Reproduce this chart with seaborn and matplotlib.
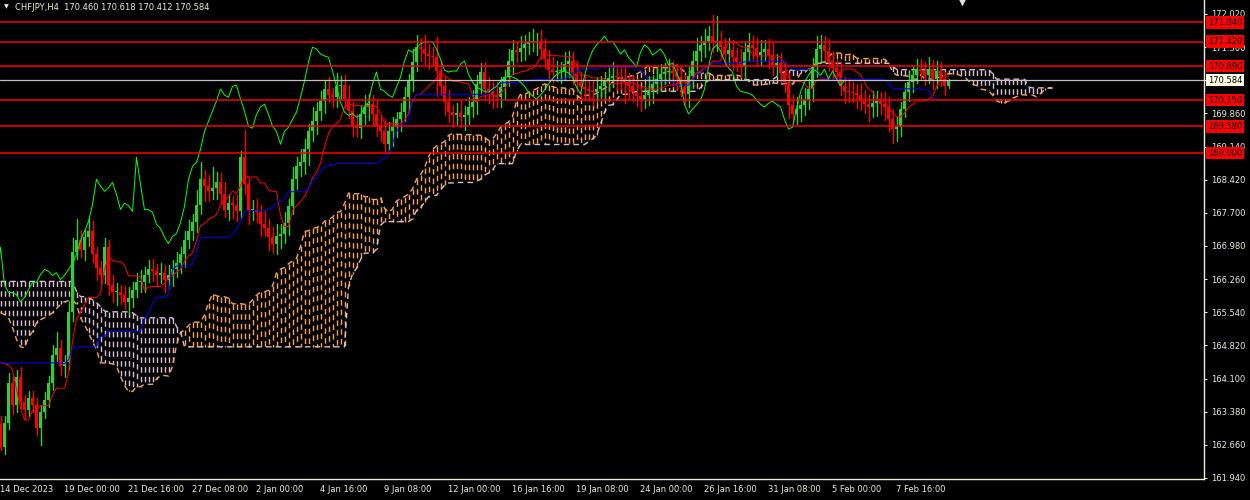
import matplotlib
matplotlib.use("Agg")
import matplotlib.pyplot as plt
import numpy as np
import pandas as pd
import seaborn as sns

# H4 closes, bar 0 = 14 Dec 2023 08:00
closes = [162.62, 163.14, 164.01, 163.53, 164.14, 163.60, 163.42, 163.68, 163.53, 163.03,
          163.38, 163.64, 164.01, 164.62, 164.77, 164.38, 164.47, 165.55, 166.86, 167.12,
          166.90, 167.17, 167.30, 166.80, 166.51, 166.34,
          166.95, 166.14, 165.97, 165.97, 165.92, 165.77, 165.86, 166.03, 166.19, 166.19,
          166.36, 166.47, 166.43, 166.34, 166.40, 166.25, 166.34, 166.47, 166.60, 166.80,
          167.10, 167.30, 167.51, 167.88, 168.43, 168.28, 168.17, 168.25, 168.36, 168.10,
          167.77, 167.91, 167.86, 167.73, 168.91, 168.32, 167.77, 167.77, 167.71, 167.45,
          167.36, 167.17, 167.03, 167.19, 167.25, 167.49, 167.84, 168.43, 168.71, 168.80,
          169.08, 169.47, 169.69, 169.91, 170.13, 170.39, 170.26, 170.21, 170.45, 170.47,
          170.17, 169.91, 169.58, 169.54, 169.84, 170.00, 170.06, 169.84, 169.58, 169.47,
          169.19, 169.47, 169.56, 169.73, 169.89, 170.21, 170.56, 170.98, 171.30, 171.26,
          171.15, 171.11, 171.08, 170.78, 170.45, 170.10, 169.89, 169.82, 169.86, 169.78,
          169.82, 170.00, 170.10, 170.50, 170.76, 170.39, 170.34, 170.26, 170.21, 170.43,
          170.65, 171.00, 171.24, 171.19, 171.28, 171.37, 171.41, 171.41, 171.41, 171.26,
          171.04, 170.80, 170.76, 170.78, 170.78, 170.93, 171.00, 170.71, 170.54, 170.43,
          170.39, 170.34, 170.32, 170.39, 170.45, 170.56, 170.63, 170.67, 170.65, 170.61,
          170.54, 170.45, 170.32, 170.24, 170.17, 170.26, 170.37, 170.50, 170.61, 170.71,
          170.76, 170.78, 170.74, 170.65, 170.43, 170.28, 170.67, 171.00, 171.22, 171.35,
          171.43, 171.54, 171.41, 171.43, 171.30, 171.15, 171.24, 171.08, 170.98, 170.87,
          171.19, 171.35, 171.28, 171.13, 171.19, 171.26, 171.13, 170.91, 170.95, 170.74,
          170.54, 170.05, 169.85, 169.95, 170.05, 170.15, 170.39, 170.87, 171.26, 171.35,
          171.22, 171.00, 170.85, 170.76, 170.45, 170.34, 170.32, 170.30, 170.26, 170.15,
          170.06, 170.00, 170.08, 170.13, 170.06, 170.00, 169.73, 169.52, 169.56, 169.95,
          170.32, 170.54, 170.69,
          170.82, 170.78, 170.69, 170.82, 170.61, 170.78, 170.61, 170.46, 170.584]
first_open = 163.12

# wick lengths in pips (0.01)
wick_up = [16, 14, 20, 16, 15, 22, 14, 16, 15, 14,
           14, 16, 15, 20, 35, 16, 14, 22, 30, 45,
           20, 16, 28, 22, 16, 14, 20, 16, 22, 20,
           16, 20, 22, 16, 20, 26, 16, 20, 22, 16,
           20, 16, 22, 20, 26, 16, 20, 24, 16, 32,
           38, 20, 24, 45, 22, 20, 28, 20, 16, 22,
           14, 60, 16, 20, 22, 16, 30, 20, 22, 26,
           20, 22, 16, 26, 20, 28, 22, 16, 30, 20,
           22, 20, 26, 16, 28, 20, 22, 30, 20, 26,
           20, 26, 22, 20, 28, 22, 26, 20, 22, 16,
           20, 22, 16, 28, 26, 20, 30, 22, 20, 45,
           22, 20, 26, 16, 22, 28, 20, 22, 26, 20,
           20, 22, 26, 20, 28, 22, 16, 26, 22, 20,
           26, 20, 22, 28, 20, 26, 22, 20, 28, 22,
           20, 26, 22, 20, 28, 22, 26, 20, 22, 26,
           22, 20, 26, 30, 20, 22, 26, 20, 22, 28,
           20, 22, 28, 20, 26, 22, 20, 26, 22, 20,
           22, 26, 20, 22, 28, 20, 26, 22, 45, 55,
           22, 20, 26, 22, 20, 28, 22, 26, 20, 22,
           26, 20, 22, 28, 20, 22, 26, 20, 22, 26,
           20, 26, 22, 20, 28, 22, 20, 26, 22, 20,
           22, 20, 26, 22, 20, 26, 22, 20, 26, 22,
           20, 26, 22, 20, 22, 16, 20, 22, 20, 22,
           22, 20, 26, 20, 22, 20, 16, 3.4]
wick_dn = [7, 16, 14, 20, 16, 15, 20, 14, 16, 15,
           37, 14, 16, 15, 14, 20, 24, 16, 20, 16,
           16, 22, 20, 16, 26, 20, 16, 22, 20, 28,
           20, 16, 26, 20, 16, 20, 22, 16, 20, 24,
           16, 26, 20, 22, 16, 20, 28, 16, 20, 22,
           20, 32, 22, 16, 26, 20, 16, 22, 28, 20,
           16, 20, 32, 22, 20, 26, 16, 28, 20, 22,
           26, 20, 28, 16, 22, 20, 26, 35, 20, 28,
           20, 26, 16, 22, 20, 28, 20, 16, 22, 20,
           22, 20, 28, 26, 20, 22, 16, 20, 32, 22,
           26, 20, 32, 22, 20, 26, 22, 28, 20, 55,
           20, 28, 22, 26, 20, 22, 28, 20, 22, 26,
           22, 20, 26, 28, 20, 22, 26, 20, 28, 22,
           20, 26, 22, 20, 28, 22, 20, 26, 22, 20,
           26, 20, 28, 22, 20, 26, 22, 20, 28, 22,
           20, 26, 22, 20, 28, 22, 45, 26, 20, 22,
           26, 20, 22, 28, 20, 26, 22, 20, 26, 28,
           20, 22, 28, 26, 20, 22, 26, 20, 22, 20,
           20, 26, 22, 28, 20, 22, 26, 20, 28, 22,
           22, 20, 28, 22, 26, 20, 22, 28, 20, 22,
           26, 22, 20, 26, 22, 28, 20, 22, 26, 20,
           20, 26, 22, 20, 28, 22, 20, 30, 22, 28,
           22, 28, 26, 30, 26, 20, 16, 20, 22, 16,
           20, 22, 16, 22, 20, 16, 20, 4.8]

# indicator values before enough history is on screen
tenkan_lead = [164.44, 164.42, 164.40, 164.29, 163.86, 163.46, 163.20, 163.20]
kijun_lead = [164.44] * 16 + [164.42, 164.51, 164.75] + [164.79] * 6
span_a_lead = [165.53, 165.49, 165.42, 165.21, 164.95, 164.79, 164.77, 164.99, 165.12, 165.31,
               165.38, 165.42, 165.47, 165.53, 165.62, 165.71, 165.77, 165.79, 165.81, 165.71,
               165.42, 165.27, 165.10, 164.90, 164.73, 164.44]
span_b_lead = ([166.21] * 19 + [165.99, 165.88, 165.88, 165.86, 165.81, 165.75, 165.66, 165.57]
               + [165.55] * 6 + [165.53, 165.47] + [165.42] * 9 + [165.23, 165.12] + [164.79] * 41)

levels = [171.84, 171.42, 170.89, 170.15, 169.58, 169.00]
bid = 170.584
date_labels = ['14 Dec 2023', '19 Dec 00:00', '21 Dec 16:00', '27 Dec 08:00', '2 Jan 00:00',
               '4 Jan 16:00', '9 Jan 08:00', '12 Jan 00:00', '16 Jan 16:00', '19 Jan 08:00',
               '24 Jan 00:00', '26 Jan 16:00', '31 Jan 08:00', '5 Feb 00:00', '7 Feb 16:00']
title = 'CHFJPY,H4  170.460 170.618 170.412 170.584'

fg = '#eeeed8'
bull = '#32cd32'
bear = '#ff0000'
px = 0.72  # one pixel in points


def segments(x, y0, y1):
    # vertical segments joined into one path, NaN between them
    k = len(x)
    sx = np.column_stack([x, x, np.full(k, np.nan)]).ravel()
    sy = np.column_stack([y0, y1, np.full(k, np.nan)]).ravel()
    return sx, sy


sns.set_theme(style='dark')
plt.rcParams['font.family'] = ['DejaVu Sans']

c = np.array(closes)
o = np.concatenate([[first_open], c[:-1]])
h = np.maximum(o, c) + np.array(wick_up) / 100
l = np.minimum(o, c) - np.array(wick_dn) / 100
n = len(c)
df = pd.DataFrame({'bar': np.arange(n), 'open': o, 'high': h, 'low': l, 'close': c})

tenkan = (df.high.rolling(9).max() + df.low.rolling(9).min()) / 2
tenkan.iloc[:len(tenkan_lead)] = tenkan_lead
kijun = (df.high.rolling(26).max() + df.low.rolling(26).min()) / 2
kijun.iloc[:len(kijun_lead)] = kijun_lead
span_b_raw = (df.high.rolling(52).max() + df.low.rolling(52).min()) / 2

shift = 26
m = n + shift
span_a = np.full(m, np.nan)
span_a[:len(span_a_lead)] = span_a_lead
span_a[shift:] = ((tenkan + kijun) / 2).values
span_b = np.full(m, np.nan)
span_b[shift:] = span_b_raw.values
span_b[:len(span_b_lead)] = span_b_lead
xs = np.arange(m)

fig = plt.figure(figsize=(12.5, 5), dpi=100, facecolor='black')
ax = fig.add_axes([0, 21 / 500, 1204 / 1250, 479 / 500])
ax.set_facecolor('black')

# cloud: dotted histogram between the spans
ok = ~np.isnan(span_a) & ~np.isnan(span_b)
up = ok & (span_a >= span_b)
dn = ok & (span_a < span_b)
dash = (0, (4, 3))
cw = 1.0
sx, sy = segments(xs[up], span_a[up], span_b[up])
ax.plot(sx, sy, color='#f4a460', lw=cw, ls=dash, zorder=1)
sx, sy = segments(xs[dn], span_b[dn], span_a[dn])
ax.plot(sx, sy, color='#d8bfd8', lw=cw, ls=dash, zorder=1)
ax.plot(xs, span_a, color='#f4a460', lw=cw, ls=dash, zorder=1)
ax.plot(xs, span_b, color='#d8bfd8', lw=cw, ls=dash, zorder=1)

# candles
rise = (df.close >= df.open).values
for mask, colr in [(rise, bull), (~rise, bear)]:
    sx, sy = segments(df.bar[mask].values, df.low[mask].values, df.high[mask].values)
    ax.plot(sx, sy, color=colr, lw=1.0, zorder=3)
    body = np.maximum((df.close - df.open).abs()[mask].values, 0.022)
    ax.bar(df.bar[mask], body, bottom=np.minimum(df.open, df.close)[mask], width=0.78,
           color=colr, lw=0, zorder=3)

# ichimoku lines
sns.lineplot(x=df.bar, y=tenkan, ax=ax, color='#ff0000', lw=px, zorder=4)
sns.lineplot(x=df.bar, y=kijun, ax=ax, color='#0000ff', lw=px, zorder=4)
sns.lineplot(x=df.bar - shift, y=df.close, ax=ax, color='#00ff00', lw=px, zorder=4)

for lv in levels:
    ax.axhline(lv, color='#ff0000', lw=1.1, zorder=5)
    ax.annotate(f'{lv:.3f}', xy=(1, lv), xycoords=('axes fraction', 'data'),
                xytext=(4, 0), textcoords='offset pixels', ha='left', va='center',
                fontsize=6, color='black', annotation_clip=False, zorder=6,
                bbox=dict(boxstyle='square,pad=0.22', fc='#ff0000', ec='none'))
ax.axhline(bid, color='#c0c0c0', lw=0.9, zorder=5)
ax.annotate(f'{bid:.3f}', xy=(1, bid), xycoords=('axes fraction', 'data'),
            xytext=(4, 0), textcoords='offset pixels', ha='left', va='center',
            fontsize=6, color='black', annotation_clip=False, zorder=6,
            bbox=dict(boxstyle='square,pad=0.22', fc='#fffbe6', ec='none'))

ax.set_xlim(-0.125, 300.875)
ax.set_ylim(161.918, 172.324)

yt = [161.94 + 0.72 * k for k in range(15)]
ax.set_yticks(yt)
# 170.580 sits completely under the bid label on the chart
ax.set_yticklabels(['' if abs(v - 170.58) < 1e-6 else f'{v:.3f}' for v in yt])
ax.yaxis.tick_right()
ax.tick_params(axis='y', direction='out', length=2.5, width=px, colors=fg, labelsize=6, pad=2.5)
ax.set_xticks(np.arange(len(date_labels)) * 16)
ax.set_xticklabels(date_labels, ha='left')
ax.tick_params(axis='x', direction='out', length=2.5, width=px, colors=fg, labelsize=6, pad=1.5)
ax.set_xlabel('')
ax.set_ylabel('')
ax.grid(False)
for s in ['left', 'top']:
    ax.spines[s].set_visible(False)
for s in ['right', 'bottom']:
    ax.spines[s].set_color(fg)
    ax.spines[s].set_linewidth(1.0)

# shift marker at the top
ax.plot([240.4], [172.27], marker='v', ms=6, color='#e0e0e0', mec='none', clip_on=False, zorder=7)

fig.text(4 / 1250, 1 - 7 / 500, '\u25bc', fontsize=4.5, color=fg, ha='left', va='center')
fig.text(15 / 1250, 1 - 7 / 500, title, fontsize=6, color=fg, ha='left', va='center')

fig.savefig('out.png', dpi=100, facecolor='black')
